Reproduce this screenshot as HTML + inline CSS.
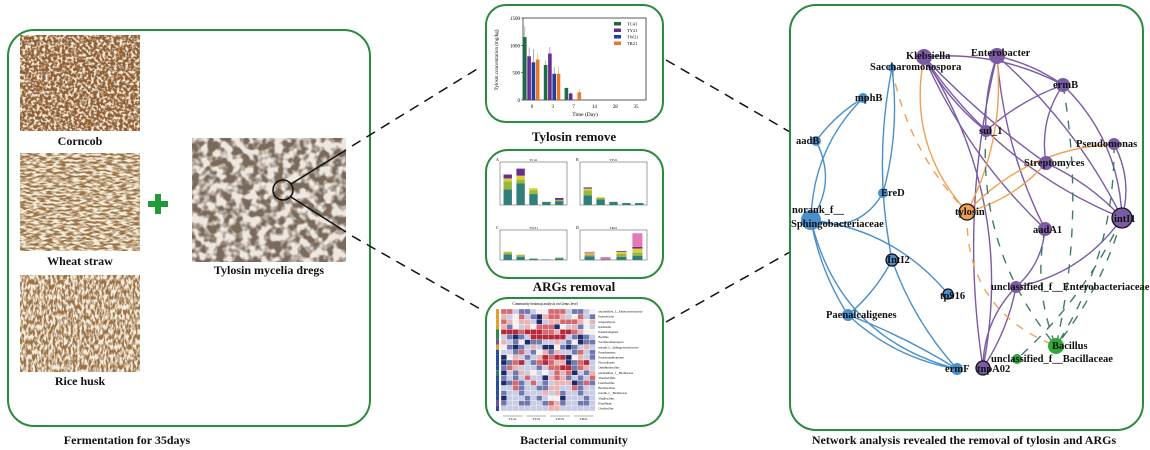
<!DOCTYPE html>
<html><head><meta charset="utf-8"><style>
html,body{margin:0;padding:0;background:#fff;width:1150px;height:450px;overflow:hidden}
svg{display:block;font-family:"Liberation Serif",serif}
.lab{font-weight:bold;font-size:12px;fill:#111}
.nl{font-weight:bold;font-size:10.5px;fill:#111}
</style></head><body>
<svg id="s" width="1150" height="450" viewBox="0 0 1150 450">
<defs>
<filter id="tCorn" x="0" y="0" width="100%" height="100%"><feTurbulence type="fractalNoise" baseFrequency="0.35" numOctaves="2" seed="3"/><feColorMatrix values="0 0 0 0 0.93  0 0 0 0 0.84  0 0 0 0 0.70  4 0 0 0 -1.7"/><feComposite in2="SourceGraphic" operator="in"/></filter>
<filter id="tWheat" x="0" y="0" width="100%" height="100%"><feTurbulence type="fractalNoise" baseFrequency="0.15 0.5" numOctaves="2" seed="7"/><feColorMatrix values="0 0 0 0 0.94  0 0 0 0 0.86  0 0 0 0 0.72  4 0 0 0 -1.5"/><feComposite in2="SourceGraphic" operator="in"/></filter>
<filter id="tRice" x="0" y="0" width="100%" height="100%"><feTurbulence type="fractalNoise" baseFrequency="0.45 0.2" numOctaves="2" seed="11"/><feColorMatrix values="0 0 0 0 0.92  0 0 0 0 0.84  0 0 0 0 0.72  4 0 0 0 -1.5"/><feComposite in2="SourceGraphic" operator="in"/></filter>
<filter id="tTylo" x="0" y="0" width="100%" height="100%"><feTurbulence type="fractalNoise" baseFrequency="0.12" numOctaves="2" seed="5"/><feColorMatrix values="0 0 0 0 0.86  0 0 0 0 0.80  0 0 0 0 0.74  4 0 0 0 -1.5"/><feComposite in2="SourceGraphic" operator="in"/></filter>
</defs>

<rect x="8" y="30" width="362" height="396" rx="26" fill="none" stroke="#2a8b3c" stroke-width="2"/>
<rect x="20" y="35" width="120" height="96" fill="#8e5e34"/>
<rect x="20" y="35" width="120" height="96" fill="#fff" filter="url(#tCorn)"/>
<text x="80" y="145" text-anchor="middle" class="lab">Corncob</text>
<rect x="20" y="153" width="120" height="98" fill="#9a7448"/>
<rect x="20" y="153" width="120" height="98" fill="#fff" filter="url(#tWheat)"/>
<text x="80" y="265" text-anchor="middle" class="lab">Wheat straw</text>
<rect x="20" y="275" width="120" height="97" fill="#9a7246"/>
<rect x="20" y="275" width="120" height="97" fill="#fff" filter="url(#tRice)"/>
<text x="80" y="385" text-anchor="middle" class="lab">Rice husk</text>
<g><rect x="148" y="201" width="20" height="6" fill="#1f9a3a"/><rect x="155" y="194" width="6" height="20" fill="#1f9a3a"/></g>
<rect x="192" y="138" width="154" height="124" fill="#7a6a5c"/>
<rect x="192" y="138" width="154" height="124" fill="#fff" filter="url(#tTylo)"/>
<circle cx="283" cy="190" r="10" fill="none" stroke="#111" stroke-width="1.5"/>
<text x="269" y="274" text-anchor="middle" class="lab">Tylosin mycelia dregs</text>
<text x="127" y="444" text-anchor="middle" class="lab">Fermentation for 35days</text>

<g stroke="#111" stroke-width="1.5" fill="none">
<line x1="291" y1="184" x2="346" y2="150"/><line x1="291" y1="197" x2="346" y2="232"/>
</g>
<g stroke="#111" stroke-width="1.5" stroke-dasharray="10,7" fill="none">
<line x1="352" y1="146" x2="482" y2="66"/><line x1="352" y1="236" x2="482" y2="310"/>
<line x1="666" y1="60" x2="790" y2="132"/><line x1="666" y1="322" x2="790" y2="252"/>
</g>

<rect x="486" y="5" width="177" height="117" rx="20" fill="none" stroke="#2a8b3c" stroke-width="2"/>
<text x="574" y="141" text-anchor="middle" class="lab" style="font-size:13px">Tylosin remove</text>
<rect x="486" y="150" width="177" height="128" rx="22" fill="none" stroke="#2a8b3c" stroke-width="2"/>
<text x="574" y="291" text-anchor="middle" class="lab" style="font-size:13px">ARGs removal</text>
<rect x="486" y="298" width="177" height="128" rx="22" fill="none" stroke="#2a8b3c" stroke-width="2"/>
<text x="574" y="444" text-anchor="middle" class="lab">Bacterial community</text>

<g id="tyl"></g>
<g id="args"></g>
<g id="heat"></g>

<rect x="790" y="5" width="353" height="425" rx="26" fill="none" stroke="#2a8b3c" stroke-width="2"/>
<text x="964" y="444" text-anchor="middle" class="lab">Network analysis revealed the removal of tylosin and ARGs</text>
<g id="net"></g>
</svg>
<script>
const NS="http://www.w3.org/2000/svg";
function mk(p,t,a){const e=document.createElementNS(NS,t);for(const k in a)e.setAttribute(k,a[k]);p.appendChild(e);return e;}

const tylDays=["0","3","7","14","28","35"];
const tylSeries=["TC41","TY21","TW21","TR21"];
const tylColors=["#1e6b45","#6a2c91","#1f3f9a","#e8782a"];
const tylTC41=[1150,640,220,0,0,0];
const tylTY21=[800,850,120,0,0,0];
const tylTW21=[690,480,0,0,0,0];
const tylTR21=[740,480,140,0,0,0];
const tylErr=[[200,80,10,0,0,0],[160,120,20,0,0,0],[240,120,0,0,0,0],[120,140,60,0,0,0]];
const tylTicks=[0,500,1000,1500];
(function(){
 const g=document.getElementById('tyl');
 const X0=523,X1=646,Y0=100,Y1=18;
 const y=v=>Y0-(v/1500)*(Y0-Y1);
 const cx=i=>532+i*20.8;
 const vals=[tylTC41,tylTY21,tylTW21,tylTR21];
 mk(g,'rect',{x:X0,y:Y1,width:X1-X0,height:Y0-Y1,fill:'none',stroke:'#333','stroke-width':0.8});
 tylTicks.forEach(t=>{mk(g,'line',{x1:X0-2,x2:X0,y1:y(t),y2:y(t),stroke:'#333','stroke-width':0.6});
  const tx=mk(g,'text',{x:X0-3,y:y(t)+2,'text-anchor':'end','font-size':5});tx.textContent=t;});
 tylDays.forEach((d,i)=>{const tx=mk(g,'text',{x:cx(i),y:Y0+8,'text-anchor':'middle','font-size':5});tx.textContent=d;
  vals.forEach((s,k)=>{if(!s[i])return;const bx=cx(i)-9+k*4.3;
   const r=mk(g,'rect',{x:bx,y:y(s[i]),width:3.6,height:Y0-y(s[i]),fill:tylColors[k]});
   
   
   mk(g,'line',{x1:bx+1.8,x2:bx+1.8,y1:y(s[i]),y2:y(s[i]+tylErr[k][i]),stroke:tylColors[k],'stroke-width':0.6,opacity:0.7});});});
 const xt=mk(g,'text',{x:585,y:116,'text-anchor':'middle','font-size':5.5});xt.textContent='Time (Day)';
 const yt=mk(g,'text',{x:498,y:60,'text-anchor':'middle','font-size':5,transform:'rotate(-90 498 60)'});yt.textContent='Tylosin concentration (mg/kg)';
 tylSeries.forEach((n,k)=>{mk(g,'rect',{x:614,y:22+k*6.5,width:7,height:3.5,fill:tylColors[k]});
  const t=mk(g,'text',{x:627,y:25.5+k*6.5,'font-size':4.5});t.textContent=n;});
})();

const argPanels=["TC41","TY21","TW21","TR21"];
const argLetters=["A","B","C","D"];
const argColors=["#2f7f7a","#9ab83a","#d8d23a","#6a2c91","#e27ab8"];
const argValues=[
 [[40,20,8,10,0],[55,10,10,18,0],[28,10,5,0,0],[8,0,0,0,0],[10,3,0,5,0]],
 [[25,12,5,3,0],[14,4,2,0,0],[8,0,0,0,0],[5,0,0,0,0],[5,0,0,0,0]],
 [[20,8,3,0,0],[12,6,2,0,0],[5,0,0,0,0],[2,0,0,0,0],[6,3,0,0,0]],
 [[14,6,4,0,6],[3,0,0,0,8],[12,10,8,3,0],[16,12,14,6,50]]];
(function(){
 const g=document.getElementById('args');
 const boxes=[[500,162,67,43,110],[580,162,67,43,110],[500,230,67,30,110],[580,230,67,30,110]];
 boxes.forEach((b,p)=>{const [x0,y0,w,h,mx]=b;
  mk(g,'rect',{x:x0,y:y0,width:w,height:h,fill:'none',stroke:'#444','stroke-width':0.5});
  const t=mk(g,'text',{x:x0+w/2,y:y0-1,'text-anchor':'middle','font-size':3.5});t.textContent=argPanels[p];
  const l=mk(g,'text',{x:x0-4,y:y0-1,'font-size':4});l.textContent=argLetters[p];
  const bars=argValues[p],n=bars.length,bw=w/(n+1)*0.75;
  bars.forEach((st,i)=>{let acc=0;const bx=x0+(i+0.6)*w/(n+0.2)-bw/2;
   st.forEach((v,k)=>{if(!v)return;const hh=v/mx*h;
    const r=mk(g,'rect',{x:bx,y:y0+h-(acc+hh),width:bw,height:hh,fill:argColors[k]});
    
    acc+=hh;});});});
})();

const heatRows=["A2-1-2-2-1-0--2","1-102-1-2-3122","21011-1-3-11122","1-20-110222-30-1","3332333221332100","-1-2-3-2-1333333","1-1-20-3-2-2-1-1","0-2-3-2-11-1-3-3","-1-1-22-1-201-21","-301-1-2-113233","-3-223-1-223211","-221-1-1-1-2-12233","-3-1-21-10-10-1212","-2-1-2-12-1-1-3121","-3-22-2-12-1-2-1111","-1-12-2-1-1-2-211","-2-1-1-2-1-1-11-11","-3-1-1-1-2-1-2-100","-2-1-1-2-2-1-1-221","-1-1-1-1-1-1-1-111"];
const heatLabels=["unclassified_f__Enterobacteriaceae","Enterobacter","Streptomyces","Klebsiella","Paenalcaligenes","Bacillus","Saccharomonospora","norank_f__Sphingobacteriaceae","Pseudomonas","Pseudoxanthomonas","Nocardiopsis","Ornithinibacillus","unclassified_f__Bacillaceae","Thermobifida","Lentibacillus","Brevibacillus","norank_f__Bacillaceae","Virgibacillus","Planifilum","Ureibacillus"];
function parseRow(s){const out=[];let i=0;while(i<s.length){let neg=false;if(s[i]==='-'){neg=true;i++;}let c=s[i++];let v=(c==='A')?2:parseInt(c);out.push(neg?-v:v);}return out;}
(function(){
 const g=document.getElementById('heat');
 const x0=501,y0=309,cw=5.9,ch=5.1;
 const t=mk(g,'text',{x:545,y:305,'text-anchor':'middle','font-size':3.6});t.textContent='Community heatmap analysis on Genus level';
 const sideCols=["#e89a2a","#e89a2a","#e89a2a","#e89a2a","#2b8a4a","#2b8a4a","#7a4aa0","#e89a2a","#2a4aa0","#2a4aa0","#2a4aa0","#2a4aa0","#2b8a4a","#2a4aa0","#2a4aa0","#2a4aa0","#2a4aa0","#2a4aa0","#7a4aa0","#2a4aa0"];
 function col(v){const m={3:'#b8283a',2:'#d46a70',1:'#eab4b4',0:'#f6f0f0','-1':'#c8cce4','-2':'#7078b0','-3':'#1f2a6a'};return m[v]||'#f0f0f0';}
 heatRows.forEach((row,r)=>{const vals=parseRow(row);
  mk(g,'rect',{x:x0-5,y:y0+r*ch,width:3,height:ch,fill:sideCols[r]});
  for(let c=0;c<16;c++){const v=vals[c%vals.length];
   const e=mk(g,'rect',{x:x0+c*cw,y:y0+r*ch,width:cw,height:ch,fill:col(v),stroke:'#fff','stroke-width':0.3});
   
   }
  const l=mk(g,'text',{x:x0+16*cw+3,y:y0+r*ch+3.6,'font-size':3.1});l.textContent=heatLabels[r];});
 ["TC41","TY21","TW21","TR21"].forEach((n,i)=>{const tx=mk(g,'text',{x:x0+(i*4+2)*cw,y:y0+20*ch+9,'text-anchor':'middle','font-size':3.5});tx.textContent=n;
  mk(g,'line',{x1:x0+i*4*cw+2,x2:x0+(i+1)*4*cw-2,y1:y0+20*ch+5,y2:y0+20*ch+5,stroke:'#333','stroke-width':0.4});});
})();

const netNames=["Klebsiella","Saccharomonospora","Enterobacter","ermB","mphB","aadB","sul_1","Pseudomonas","Streptomyces","EreD","norank_f__ Sphingobacteriaceae","tylosin","intI1","aadA1","IntI2","unclassified_f__Enterobacteriaceae","tp916","Paenalcaligenes","Bacillus","unclassified_f__Bacillaceae","ermF","tnpA02"];
const netGroups=["p","b","p","p","b","b","p","p","p","b","b","o","p","p","b","p","b","b","g","g","b","p"];
const netSizes=[8,4,8,7,5,5,6,6,7,5,10,8,10,7,6,6,5,6,8,5,6,7];
const netLinks=[["Klebsiella","ermB","p",-0.15],["Klebsiella","sul_1","p",0.1],["Klebsiella","aadA1","p",0.1],["Klebsiella","intI1","p",0.15],["Klebsiella","tnpA02","p",-0.2],["Klebsiella","Streptomyces","p",0.05],
["Enterobacter","ermB","p",-0.1],["Enterobacter","intI1","p",-0.1],["Enterobacter","aadA1","p",0.1],["Enterobacter","tnpA02","p",0.1],["Enterobacter","sul_1","p",0.1],
["ermB","Streptomyces","p",0.2],["ermB","sul_1","p",0.1],["Pseudomonas","intI1","p",-0.2],["Streptomyces","intI1","p",-0.1],["ermB","intI1","p",-0.2],
["aadA1","unclassified_f__Enterobacteriaceae","p",-0.2],["intI1","unclassified_f__Enterobacteriaceae","p",-0.2],["unclassified_f__Enterobacteriaceae","tnpA02","p",0.2],["unclassified_f__Enterobacteriaceae","tnpA02","p",-0.1],
["Klebsiella","tylosin","o",0.25],["Enterobacter","tylosin","o",-0.15],["Pseudomonas","tylosin","o",0.2],["Streptomyces","tylosin","o",-0.15],["Saccharomonospora","tylosin","od",0.15],["tylosin","Bacillus","od",0.35],
["ermB","Bacillus","gd",-0.1],["intI1","Bacillus","gd",-0.1],["Pseudomonas","Bacillus","gd",-0.15],["sul_1","Bacillus","gd",0.2],["intI1","unclassified_f__Bacillaceae","gd",-0.1],["aadA1","Bacillus","gd",0.15],
["mphB","norank_f__ Sphingobacteriaceae","b",0.2],["aadB","norank_f__ Sphingobacteriaceae","b",-0.3],["Saccharomonospora","EreD","b",-0.1],["Saccharomonospora","IntI2","b",0.1],["EreD","norank_f__ Sphingobacteriaceae","b",-0.4],
["norank_f__ Sphingobacteriaceae","tp916","b",-0.2],["norank_f__ Sphingobacteriaceae","ermF","b",0.3],["IntI2","Paenalcaligenes","b",-0.1],["IntI2","ermF","b",0.1],["Paenalcaligenes","ermF","b",0.15],["Paenalcaligenes","ermF","b",-0.05],["norank_f__ Sphingobacteriaceae","Paenalcaligenes","b",0.1],["mphB","aadB","b",0.1]];
const netX=[924,892,997,1063,863,816,986,1114,1046,883,811,967,1122,1045,892,1016,948,848,1056,1017,957,983];
const netY=[57,68,56,85,98,141,131,144,163,193,220,212,218,229,260,287,294,315,346,359,369,368];
(function(){
 const g=document.getElementById('net');
 const C={p:'#7b5aa6',b:'#4a8fcb',o:'#f0a050',g:'#2fa83a'};
 const idx=n=>netNames.indexOf(n);
 netLinks.forEach(l=>{const a=idx(l[0]),b=idx(l[1]);const x1=netX[a],y1=netY[a],x2=netX[b],y2=netY[b];
  const mx=(x1+x2)/2-(y2-y1)*l[3],my=(y1+y2)/2+(x2-x1)*l[3];
  const t=l[2];let st='#7b5aa6',da='';
  if(t==='b')st='#4a8fcb';if(t==='o'||t==='od')st='#f0a050';if(t==='od')da='8,8';if(t==='gd'){st='#3f7a6e';da='9,9';}
  const e=mk(g,'path',{d:`M${x1},${y1} Q${mx},${my} ${x2},${y2}`,fill:'none',stroke:st,'stroke-width':1.4,'stroke-dasharray':da});
  
  });
 netNames.forEach((n,i)=>{const gr=netGroups[i];
  const dark=['intI1','IntI2','tp916','tnpA02','tylosin'].includes(n);
  const c=mk(g,'circle',{cx:netX[i],cy:netY[i],r:netSizes[i],fill:C[gr],stroke:dark?'#111':'none','stroke-width':1.3});
  
  });
 const lp={"Klebsiella":[-18,2],"Saccharomonospora":[-22,2],"Enterobacter":[-26,0],"ermB":[-10,3],"mphB":[-8,3],"aadB":[-20,3],"sul_1":[-7,3],"Pseudomonas":[-38,3],"Streptomyces":[-22,3],"EreD":[-2,3],"tylosin":[-12,3],"intI1":[-8,4],"aadA1":[-12,4],"IntI2":[-5,3],"unclassified_f__Enterobacteriaceae":[-25,3],"tp916":[-8,5],"Paenalcaligenes":[-22,3],"Bacillus":[-4,3],"unclassified_f__Bacillaceae":[-26,3],"ermF":[-12,3],"tnpA02":[-6,4]};
 netNames.forEach((n,i)=>{if(n.startsWith('norank')){
   const t1=mk(g,'text',{x:792,y:213,class:'nl'});t1.textContent='norank_f__';
   const t2=mk(g,'text',{x:791,y:227,class:'nl'});t2.textContent='Sphingobacteriaceae';return;}
  const o=lp[n];const t=mk(g,'text',{x:netX[i]+o[0],y:netY[i]+o[1],class:'nl'});t.textContent=n;
  
  });
})();
</script>
</body></html>
